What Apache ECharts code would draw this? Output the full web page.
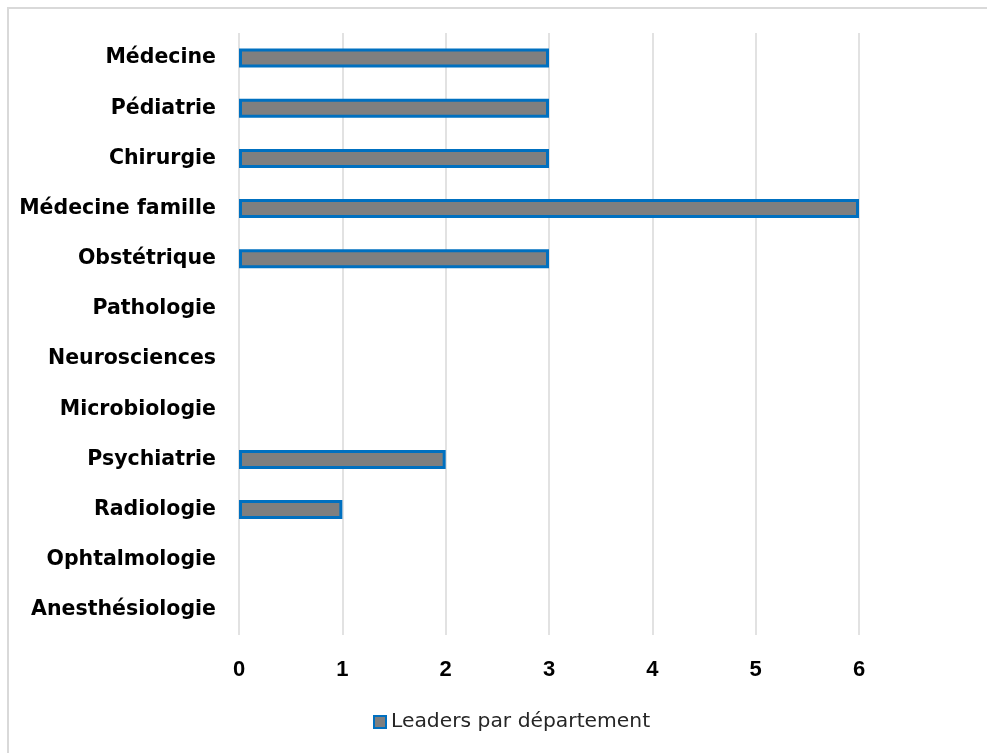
<!DOCTYPE html>
<html>
<head>
<meta charset="utf-8">
<script src="https://cdn.jsdelivr.net/npm/echarts@6/dist/echarts.min.js"></script>
<style>
html,body{margin:0;padding:0;background:#fff;}
#c{width:987px;height:753px;}
</style>
</head>
<body>
<div id="c"></div>
<script>
const categories = ["Médecine","Pédiatrie","Chirurgie","Médecine famille","Obstétrique","Pathologie","Neurosciences","Microbiologie","Psychiatrie","Radiologie","Ophtalmologie","Anesthésiologie"];
const values = [3,3,3,6,3,0,0,0,2,1,0,0];
const xTicks = [0,1,2,3,4,5,6];
const seriesName = "Leaders par département";

const chart = echarts.init(document.getElementById('c'));
chart.setOption({
  animation:false,
  backgroundColor:'#fff',
  graphic:[{type:'rect',shape:{x:8,y:8,width:1100,height:900},style:{fill:'none',stroke:'#d9d9d9',lineWidth:2},silent:true}],
  grid:{left:239,right:128,top:33,bottom:118,containLabel:false},
  legend:{
    left:368,top:707,itemWidth:12,itemHeight:12,itemGap:7,
    icon:'rect',
    textStyle:{fontFamily:'"DejaVu Sans"',fontSize:20.3,color:'#262626'},
    data:[{name:seriesName,itemStyle:{color:'#7f7f7f',borderColor:'#0070c0',borderWidth:2}}]
  },
  xAxis:{
    type:'value',min:0,max:6,interval:1,
    axisLine:{show:false},axisTick:{show:false},
    splitLine:{lineStyle:{color:'#d9d9d9',width:1.5}},
    axisLabel:{margin:24,fontFamily:'"Liberation Sans Narrow","Liberation Sans"',fontWeight:'bold',fontSize:22,color:'#000',
      formatter:v=>xTicks.includes(v)?String(v):''}
  },
  yAxis:{
    type:'category',data:categories,inverse:true,
    axisLine:{show:false},axisTick:{show:false},splitLine:{show:false},
    axisLabel:{margin:23,fontFamily:'"DejaVu Sans"',fontWeight:'bold',fontSize:20.5,color:'#000'}
  },
  series:[{
    name:seriesName,type:'bar',barWidth:19,
    data:values.map(v=>v===0?{value:v,itemStyle:{borderWidth:0}}:v),
    itemStyle:{color:'#7f7f7f',borderColor:'#0070c0',borderWidth:3}
  }]
});
</script>
</body>
</html>
